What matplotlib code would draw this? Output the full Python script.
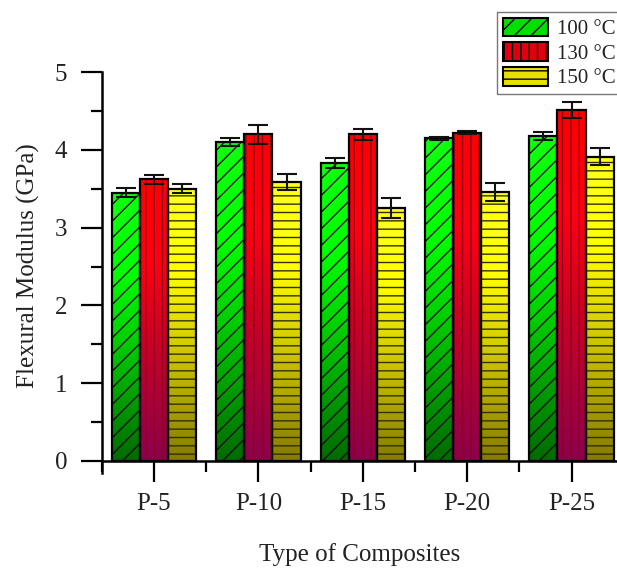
import numpy as np
import matplotlib.pyplot as plt
from matplotlib.colors import LinearSegmentedColormap
from matplotlib.patches import Patch, Rectangle

plt.rcParams['font.family'] = 'Liberation Serif'
plt.rcParams['hatch.linewidth'] = 1.0
plt.rcParams['text.color'] = '#222222'

composites = ['P-5', 'P-10', 'P-15', 'P-20', 'P-25']
temps = ['100 °C', '130 °C', '150 °C']

mod_100 = [3.45, 4.10, 3.83, 4.15, 4.18]
err_100 = [0.06, 0.05, 0.06, 0.02, 0.05]
mod_130 = [3.62, 4.20, 4.20, 4.22, 4.51]
err_130 = [0.06, 0.12, 0.07, 0.02, 0.10]
mod_150 = [3.50, 3.59, 3.25, 3.46, 3.91]
err_150 = [0.06, 0.10, 0.13, 0.12, 0.11]

values = [mod_100, mod_130, mod_150]
errors = [err_100, err_130, err_150]

# gradient: dark at the bottom, bright from mid height up
cmaps = [
    LinearSegmentedColormap.from_list('g', [(0, '#006a00'), (0.45, '#00d000'), (0.7, '#00ff00'), (1, '#10ff10')]),
    LinearSegmentedColormap.from_list('r', [(0, '#8a0050'), (0.45, '#d00020'), (0.7, '#ff0010'), (1, '#ff0000')]),
    LinearSegmentedColormap.from_list('y', [(0, '#857a00'), (0.45, '#d8d000'), (0.7, '#ffff00'), (1, '#ffff20')]),
]
hatches = ['//', '||', '--']
hatch_cols = ['#101010', '#900020', '#303000']
legend_cols = ['#00e000', '#e00010', '#e8e000']

fig = plt.figure(figsize=(6.17, 5.68), dpi=100)
ax = fig.add_axes([0.165, 0.168, 0.846, 0.705])

x = np.arange(1, len(composites) + 1)
w = 0.27
grad = np.linspace(0, 1, 256).reshape(-1, 1)

for k in range(3):
    pos = x + (k - 1) * w
    for xi, v in zip(pos, values[k]):
        x0 = xi - w / 2
        rect = Rectangle((x0, 0), w, v, facecolor='none', edgecolor='none')
        ax.add_patch(rect)
        im = ax.imshow(grad, extent=[x0, x0 + w, 0, v], origin='lower', cmap=cmaps[k],
                       aspect='auto', zorder=1, interpolation='bilinear')
        im.set_clip_path(rect)
        # hatch overlay
        ax.add_patch(Rectangle((x0, 0), w, v, facecolor='none', edgecolor=hatch_cols[k],
                               hatch=hatches[k], linewidth=0, zorder=2))
        ax.add_patch(Rectangle((x0, 0), w, v, facecolor='none', edgecolor='black',
                               linewidth=1.6, zorder=3))
    ax.errorbar(pos, values[k], yerr=errors[k], fmt='none', ecolor='#111111',
                elinewidth=1.5, capsize=7, capthick=1.5, zorder=4)

ax.set_xlim(0.5, 5.5)
ax.set_ylim(-0.15, 5)
ax.spines['bottom'].set_position(('data', 0))
ax.spines['top'].set_visible(False)
ax.spines['right'].set_visible(False)
ax.spines['left'].set_linewidth(1.8)
ax.spines['bottom'].set_linewidth(1.8)
ax.spines['left'].set_bounds(-0.15, 5)

ax.set_xticks(x)
ax.set_xticklabels(composites)
ax.set_xticks(np.arange(0.5, 6, 1), minor=True)
ax.set_yticks(range(6))
ax.set_yticks(np.arange(0.5, 5, 1), minor=True)
ax.tick_params(axis='both', which='major', direction='out', length=15, width=1.6,
               labelsize=18, labelcolor='#222222')
ax.tick_params(axis='y', which='major', pad=10)
ax.tick_params(axis='x', which='major', pad=8)
ax.tick_params(axis='both', which='minor', direction='out', length=8, width=1.6)

fig.text(0.046, 0.533, 'Flexural Modulus (GPa)', fontsize=18, rotation=90, ha='center', va='center')
fig.text(0.583, 0.024, 'Type of Composites', fontsize=18, ha='center', va='center')

handles = [Patch(facecolor=legend_cols[k], edgecolor='black', hatch=hatches[k], linewidth=1.5)
           for k in range(3)]
fig.legend(handles, temps, loc='upper left', bbox_to_anchor=(0.806, 0.978), fontsize=15,
           frameon=True, fancybox=False, edgecolor='#555555', handlelength=2.2, handleheight=1.0,
           labelspacing=0.15, handletextpad=0.4, borderpad=0.25, borderaxespad=0)

fig.savefig('out.png', dpi=100)
